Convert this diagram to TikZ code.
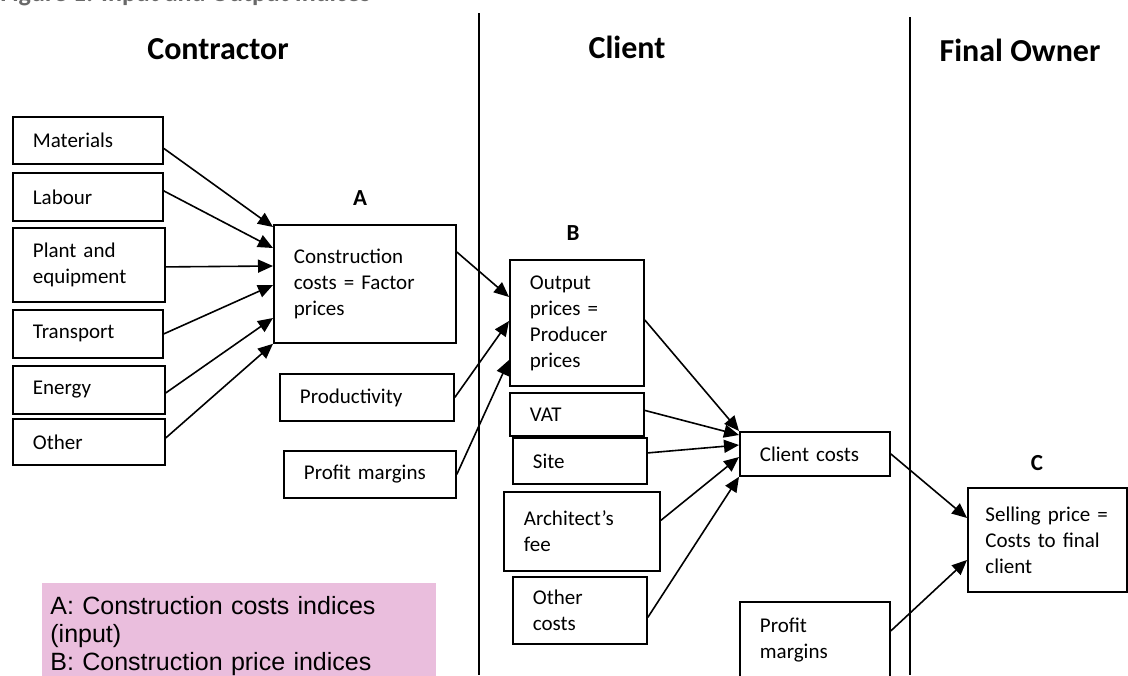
\documentclass[tikz,border=0pt]{standalone}
\usepackage{fontspec}
\setmainfont{Carlito}
\newfontfamily\legendfont{Liberation Sans}
\usetikzlibrary{arrows.meta,calc}
\definecolor{legendpink}{RGB}{234,190,221}
\definecolor{captiongrey}{RGB}{105,105,105}
\tikzset{
  box/.style 2 args={draw, line width=0.9pt, anchor=north west, align=left,
    inner xsep=10pt, inner ysep=2pt, text width=#1, minimum height=#2,
    font=\fontsize{10.5}{13}\selectfont},
  flow/.style={line width=0.8pt, -{Triangle[length=7.5pt,width=6.5pt]}},
  side/.style={font=\fontsize{16}{19}\selectfont\bfseries},
  tag/.style={font=\fontsize{11.5}{14}\selectfont\bfseries},
}
\begin{document}
\begin{tikzpicture}[x=0.5pt, y=-0.5pt]
      \useasboundingbox (0,0) rectangle (1128,675);
      \clip (0,0) rectangle (1128,675);
      \node[anchor=base west, inner sep=0pt, text=captiongrey,
            font=\fontsize{13}{15}\selectfont\bfseries] (caption) at (0,1)
            {Figure 1: Input and Output Indices};
      \draw[line width=1pt] (479,13) -- (479,675)
                            (910,17) -- (910,675);
      \node[side] (contractor) at (218,49) {Contractor};
      \node[side] (client) at (627,47) {Client};
      \node[side] (owner) at (1020,50) {Final Owner};
      \node[tag] (taga) at (360,198) {A};
      \node[tag] (tagb) at (573,233) {B};
      \node[tag] (tagc) at (1037,463) {C};
      \node[box={55pt}{23.5pt}] (mat) at (12,116) {Materials};
      \node[box={55pt}{24pt}] (lab) at (12,172) {Labour};
      \node[box={56pt}{37pt}] (plant) at (12,227) {Plant and\\equipment};
      \node[box={55pt}{24pt}] (trans) at (12,309) {Transport};
      \node[box={56pt}{24pt}] (energy) at (12,365) {Energy};
      \node[box={56pt}{23pt}] (other) at (12,418) {Other};
      \node[box={71pt}{59pt}] (cc) at (273,224) {Construction\\costs = Factor\\prices};
      \node[box={67pt}{23.5pt}] (prod) at (279,373) {Productivity};
      \node[box={66pt}{23.5pt}] (profa) at (283,450) {Profit margins};
      \node[box={47pt}{63pt}] (op) at (509,259) {Output\\prices =\\Producer\\prices};
      \node[box={47pt}{21.5pt}] (vat) at (509,392) {VAT};
      \node[box={47pt}{23pt}] (site) at (512,437) {Site};
      \node[box={58pt}{39.5pt}] (arch) at (503,491) {Architect’s\\fee};
      \node[box={47pt}{33.5pt}] (oth) at (512,576) {Other\\costs};
      \node[box={55pt}{22pt}] (clc) at (739,431) {Client costs};
      \node[box={62pt}{52pt}, inner xsep=8.75pt] (sell) at (967,487)
            {Selling price =\\Costs to final\\client};
      \node[box={55pt}{38pt}] (profb) at (739,601) {Profit\\margins};
      \node[fill=legendpink, anchor=north west, inner xsep=4pt, inner ysep=6.5pt,
            text width=189pt, align=left,
            font=\legendfont\fontsize{12.5}{14}\selectfont] (legend) at (42,583)
            {A: Construction costs indices\\(input)\\B: Construction price indices};
      \path[flow] ($(mat.east)+(0,8)$) edge ($(cc.north west)+(0,3)$)
                  ($(lab.east)+(0,-6)$) edge ($(cc.north west)+(0,24)$)
                  ($(plant.east)+(0,2)$) edge ($(cc.north west)+(0,42)$)
                  (trans.east) edge ($(cc.north west)+(0,61)$)
                  ($(energy.east)+(0,3)$) edge ($(cc.north west)+(0,94)$)
                  ($(other.east)+(0,-4)$) edge (cc.south west);
      \path[flow] ($(cc.north east)+(0,28)$) edge ($(op.north west)+(0,38)$)
                  (prod.east) edge ($(op.north west)+(0,62)$)
                  (profa.east) edge ($(op.north west)+(0,101)$);
      \path[flow] ($(op.north east)+(0,61)$) edge (clc.north west)
                  ($(vat.east)+(0,-4)$) edge ($(clc.north west)+(0,4)$)
                  ($(site.east)+(0,-8)$) edge ($(clc.north west)+(0,14)$)
                  ($(arch.east)+(0,-11)$) edge ($(clc.north west)+(0,26)$)
                  ($(oth.east)+(0,7)$) edge (clc.south west);
      \path[flow] (clc.east) edge ($(sell.north west)+(0,31)$)
                  ($(profb.east)+(0,-9)$) edge ($(sell.north west)+(0,73)$);
\end{tikzpicture}
\end{document}
